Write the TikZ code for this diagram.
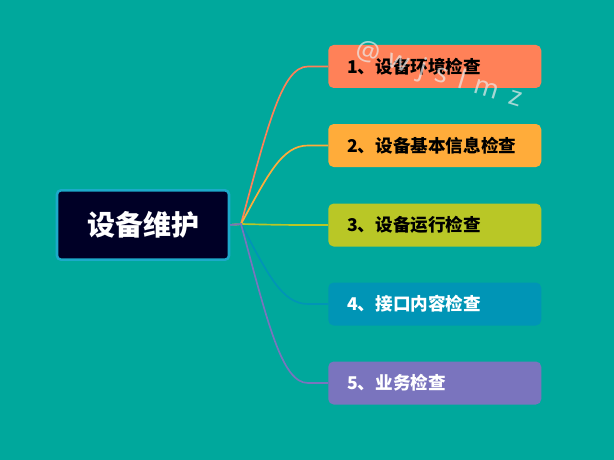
\documentclass[tikz,border=0pt]{standalone}
\usepackage{fontspec}
\usetikzlibrary{calc}
\newfontfamily\cjk{Noto Sans CJK SC}
\newfontfamily\wmark{Noto Sans}
\definecolor{bg}{RGB}{0,168,156}
\definecolor{hubfill}{RGB}{0,0,38}
\definecolor{hubline}{RGB}{28,170,202}
\definecolor{cone}{RGB}{255,129,88}
\definecolor{ctwo}{RGB}{255,172,58}
\definecolor{cthree}{RGB}{185,199,38}
\definecolor{cfour}{RGB}{0,149,182}
\definecolor{cfive}{RGB}{122,116,190}

\begin{document}
\begin{tikzpicture}[x=0.75pt,y=-0.75pt,
  hub/.style={draw=hubline,line width=1.9pt,fill=hubfill,rounded corners=3pt,
    minimum width=129pt,minimum height=52pt,text=white,font=\cjk\bfseries\fontsize{21}{25}\selectfont},
  topic/.style={anchor=west,rounded corners=4pt,minimum height=32.25pt,
    text width=131.25pt,inner xsep=14.25pt,align=left,font=\cjk\bfseries\fontsize{13.2}{16}\selectfont},
  branch/.style={line width=1.25pt}]
  \fill[bg] (0,0) rectangle (614,460);
  \useasboundingbox (0,0) rectangle (614,460);

  \node[hub] (main) at (143,225) {设备维护};
  \coordinate (j) at (241,224);

  \node[topic,fill=cone] (t1) at (328,66.5) {1、设备环境检查};
  \node[topic,fill=ctwo] (t2) at (328,145.5) {2、设备基本信息检查};
  \node[topic,fill=cthree] (t3) at (328,225) {3、设备运行检查};
  \node[topic,fill=cfour,text=white] (t4) at (328,304) {4、接口内容检查};
  \node[topic,fill=cfive,text=white] (t5) at (328,383) {5、业务检查};

  \foreach \n/\c/\y in {1/cone/66.5,2/ctwo/145.5,3/cthree/225,4/cfour/304,5/cfive/383}
    \draw[branch,\c] (main.east) -- (j)
      .. controls ($(j)+(27,{0.63*(\y-224)})$) and (282,\y) .. (308,\y) -- (t\n.west);

  % watermark
  \node[rotate=-17,text=white!85!gray,opacity=0.7,font=\wmark\fontsize{20}{22}\selectfont]
    (wm) at (439,75) {@\hspace{7pt}w\hspace{8pt}j\hspace{8pt}s\hspace{8pt}l\hspace{8pt}m\hspace{8pt}z};
\end{tikzpicture}
\end{document}
